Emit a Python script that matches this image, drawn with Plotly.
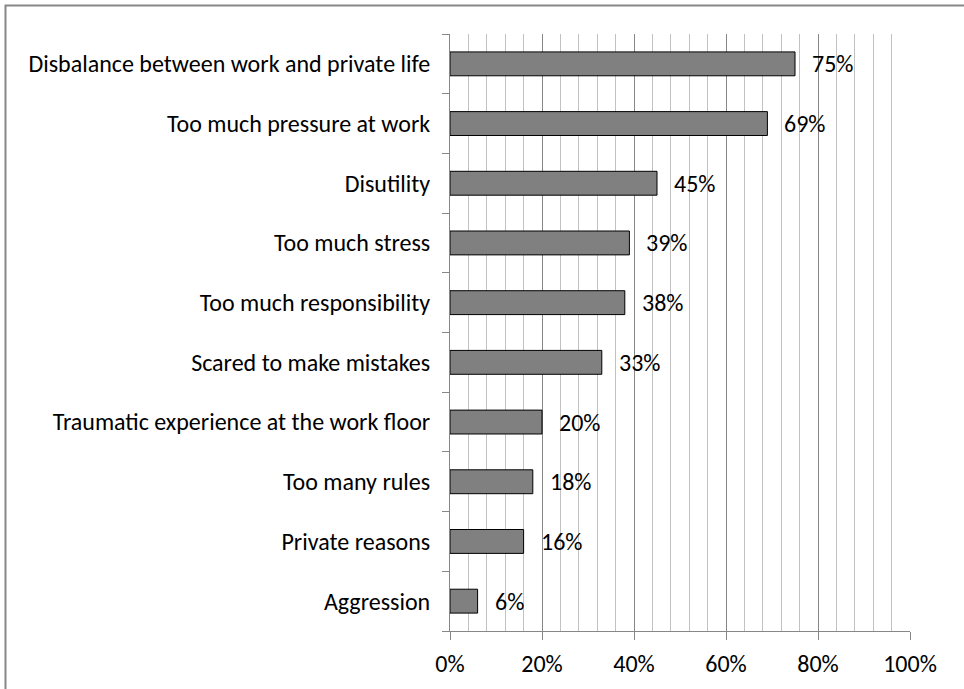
import plotly.graph_objects as go

# Reasons for leaving, share of respondents (%)
reasons = [
    "Disbalance between work and private life",
    "Too much pressure at work",
    "Disutility",
    "Too much stress",
    "Too much responsibility",
    "Scared to make mistakes",
    "Traumatic experience at the work floor",
    "Too many rules",
    "Private reasons",
    "Aggression",
]
shares = [75, 69, 45, 39, 38, 33, 20, 18, 16, 6]
x_ticks = [0, 20, 40, 60, 80, 100]
x_tick_labels = [f"{t}%" for t in x_ticks]

FONT = "Carlito, Calibri, 'Open Sans', sans-serif"
FONT_SIZE = 24
GRID_MAJOR = "#878787"
GRID_MINOR = "#c2c2c2"

fig = go.Figure(
    go.Bar(
        x=shares,
        y=reasons,
        orientation="h",
        marker=dict(color="#808080", line=dict(color="#000000", width=1)),
        width=0.4,
        hoverinfo="skip",
    )
)

# value labels placed just right of each bar end
for r, v in zip(reasons, shares):
    fig.add_annotation(
        x=v, y=r, text=f"{v}%", showarrow=False,
        xanchor="left", yanchor="middle", xshift=15,
        font=dict(family=FONT, size=FONT_SIZE, color="#000000"),
    )

# outer chart frame
fig.add_shape(
    type="rect", xref="paper", yref="paper",
    x0=(5.5 - 450) / 460, x1=1.3,
    y0=-0.3, y1=(631 - 5.5) / 597,
    line=dict(color="#888888", width=2), fillcolor="rgba(0,0,0,0)",
    layer="below",
)

fig.update_layout(
    width=964, height=689,
    margin=dict(l=450, r=54, t=34, b=58),
    paper_bgcolor="white", plot_bgcolor="white",
    showlegend=False,
    font=dict(family=FONT, size=FONT_SIZE, color="#000000"),
    xaxis=dict(
        range=[0, 100],
        tickvals=x_ticks, ticktext=x_tick_labels,
        showgrid=True, gridcolor=GRID_MAJOR, gridwidth=1,
        minor=dict(dtick=4, showgrid=True, gridcolor=GRID_MINOR, gridwidth=1, ticks=""),
        showline=True, linecolor=GRID_MAJOR, linewidth=1,
        ticks="outside", ticklen=8, tickcolor=GRID_MAJOR,
        ticklabelstandoff=3,
        zeroline=False, fixedrange=True,
    ),
    yaxis=dict(
        categoryorder="array", categoryarray=reasons[::-1],
        range=[-0.5, len(reasons) - 0.5],
        showline=True, linecolor=GRID_MAJOR, linewidth=1,
        ticks="outside", ticklen=7, tickcolor=GRID_MAJOR,
        tickson="boundaries", ticklabelstandoff=14,
        showgrid=False, fixedrange=True,
    ),
)

fig.write_html("out.html")
